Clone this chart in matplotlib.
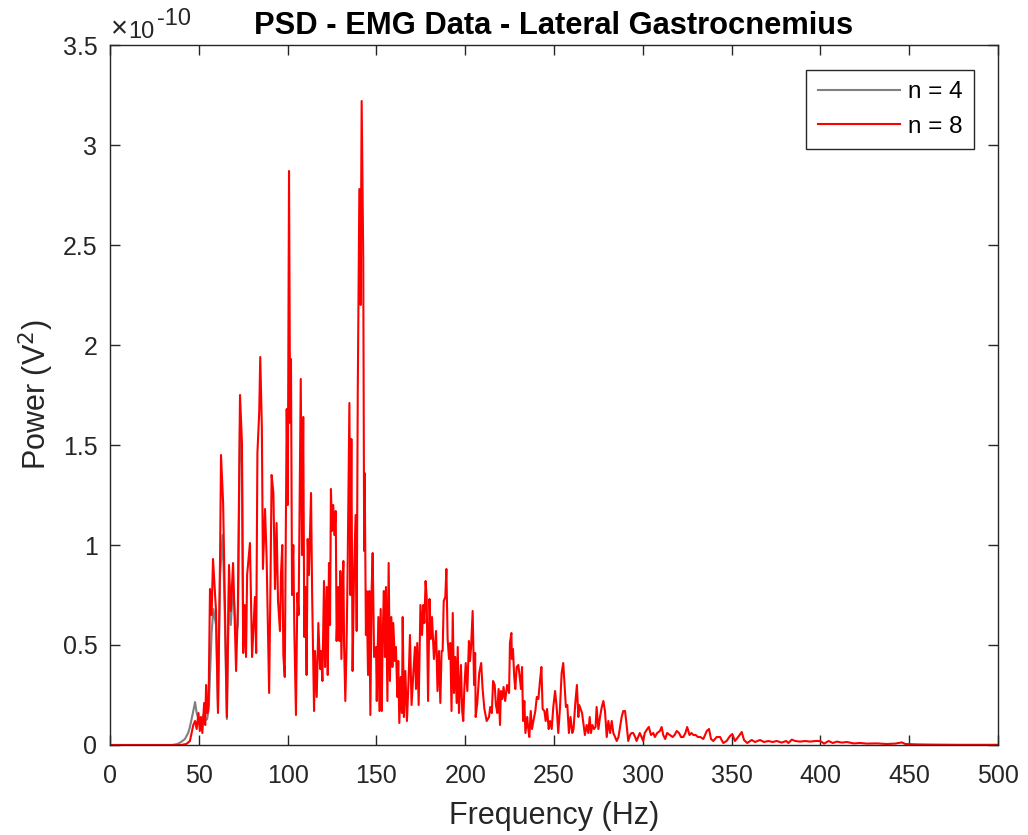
import matplotlib
matplotlib.use("Agg")
import matplotlib.pyplot as plt
from matplotlib.ticker import FuncFormatter

plt.rcParams['font.family'] = ['Liberation Sans', 'DejaVu Sans']

# ---- data (power values in units of 1e-10 V^2) ----
red_freq = [0, 40, 43, 45, 46.9, 47.9, 48.8, 49.8, 50.6, 51.2, 52.0, 53.0, 53.6, 54.1, 54.8, 55.5,
            56.3, 57.2, 58.0, 59.7, 60.8, 62.0, 62.5, 63.7, 64.5, 65.8, 67.0, 68.0, 69.3, 71.0, 72.0,
            73.2, 74.3, 75.0, 75.8, 76.6, 77.2, 78.8, 80.0, 81.6, 82.3, 83.0, 84.0, 84.6, 85.5, 86.1,
            87.3, 88.2, 89.6, 90.4, 91.0, 92.0, 92.9, 93.8, 94.6, 95.7, 96.3, 97.0, 97.6, 98.4, 99.5,
            100.1, 100.8, 101.4, 101.9, 102.5, 103.2, 103.8, 104.7, 105.5, 106.2, 106.6, 107.4, 108.1,
            108.8, 109.4, 110.0, 110.7, 111.3, 112.0, 113.2, 113.8, 114.9, 115.4, 116.4, 117.3, 118.3,
            118.8, 119.6, 120.5, 121.1, 122.0, 122.6, 123.3, 123.9, 124.4, 125.0, 125.7, 126.3, 127.1,
            127.6, 128.5, 129.2, 129.7, 130.3, 131.0, 131.4, 131.8, 132.5, 133.2, 133.8, 134.8, 135.3,
            135.9, 136.6, 137.4, 138.3, 138.9, 139.5, 140.4, 141.1, 141.7, 142.6, 143.1, 143.4, 144.1,
            144.5, 145.3, 146.0, 146.6, 147.3, 147.9, 148.7, 149.8, 150.2, 151.1, 151.7, 152.4, 153.0,
            153.5, 154.2, 154.8, 155.4, 156.2, 156.9, 157.6, 158.4, 159.0, 159.5, 160.4, 161.0, 161.8,
            162.3, 162.9, 163.7, 164.4, 164.8, 165.5, 166.3, 167.2, 168.1, 168.9, 169.8, 170.8, 171.7,
            172.3, 173.0, 173.8, 174.8, 175.7, 176.4, 177.0, 177.7, 178.3, 179.1, 179.9, 180.6, 181.3,
            182.4, 183.6, 184.4, 185.2, 186.0, 186.7, 187.3, 187.9, 188.8, 189.4, 190.1, 190.9, 191.6,
            192.3, 193.0, 193.7, 194.4, 195.2, 195.8, 196.5, 197.6, 198.3, 198.9, 199.5, 200.3, 201.2,
            202.1, 202.7, 203.3, 204.2, 205.0, 205.6, 205.9, 206.8, 207.9, 209.0, 209.8, 210.8, 212.1,
            213.4, 214.1, 215.0, 215.7, 216.6, 217.3, 218.1, 218.8, 219.6, 220.1, 220.9, 221.6, 222.5,
            223.6, 224.7, 225.2, 226.0, 226.3, 226.9, 227.6, 228.2, 229.0, 229.9, 230.7, 231.4, 232.0,
            232.6, 233.3, 233.9, 234.9, 235.4, 236.1, 236.9, 237.6, 238.4, 239.5, 240.3, 241.2, 242.1,
            242.9, 243.6, 244.6, 245.3, 246.1, 247.0, 247.8, 248.7, 249.6, 250.6, 251.5, 252.4, 253.4,
            254.3, 255.2, 256.0, 256.7, 257.5, 258.4, 259.3, 260.3, 261.0, 262.0, 262.9, 263.7, 264.2,
            265.0, 265.8, 266.7, 267.4, 268.4, 269.3, 270.1, 270.8, 271.6, 272.5, 273.4, 274.0, 275.0,
            275.9, 276.9, 277.8, 278.7, 279.7, 280.6, 281.6, 282.5, 283.4, 284.4, 285.3, 286.3, 287.2,
            288.1, 289.0, 290.0, 290.9, 291.8, 292.8, 293.7, 294.6, 295.7, 296.5, 297.4, 298.3, 299.3,
            300.2, 301.1, 302.5, 303.4, 304.6, 305.9, 306.8, 308.1, 309.6, 310.6, 311.5, 312.6, 313.7,
            315.3, 316.8, 317.9, 319.1, 320.4, 321.5, 322.8, 324.0, 325.0, 326.3, 327.4, 328.5, 329.8,
            331.0, 332.4, 334.1, 336.0, 337.3, 338.4, 339.7, 341.6, 343.5, 345.3, 347.2, 349.1, 350.4,
            351.9, 353.7, 355.7, 357.0, 358.8, 361.3, 363.2, 366.0, 368.2, 370.7, 373.1, 375.4, 378.2,
            380.7, 382.0, 383.9, 385.8, 388.6, 391.4, 394.2, 397.1, 399.9, 402.1, 404.6, 407.0, 409.3,
            412.1, 414.9, 418.7, 422.4, 426.2, 431.8, 437.4, 442.1, 445.9, 447.8, 454.4, 461.9, 476.9,
            500.0]
red_power = [0, 0, 0.005, 0.02, 0.10, 0.12, 0.08, 0.16, 0.07, 0.14, 0.06, 0.21, 0.10, 0.30, 0.16, 0.20,
             0.78, 0.65, 0.93, 0.67, 0.16, 0.96, 1.45, 1.21, 0.80, 0.14, 0.90, 0.67, 0.91, 0.37, 0.69,
             1.75, 1.51, 0.46, 0.70, 0.44, 0.85, 1.01, 0.44, 0.74, 0.46, 1.46, 1.66, 1.94, 1.59, 0.88,
             1.18, 0.93, 0.26, 0.84, 1.35, 1.26, 0.78, 1.11, 0.72, 0.57, 0.86, 1.00, 0.45, 0.34, 1.68,
             1.20, 2.87, 1.61, 1.93, 0.75, 1.00, 0.57, 0.15, 0.76, 0.65, 1.04, 1.83, 0.95,
             1.64, 0.54, 0.79, 0.35, 1.03, 0.85, 1.26, 0.76, 0.17, 0.47, 0.24, 0.61, 0.38,
             0.47, 0.32, 0.82, 0.39, 0.79, 0.35, 0.91, 0.60, 1.28, 1.07, 1.20, 1.05, 1.17,
             0.52, 0.79, 0.52, 0.87, 0.43, 0.81, 0.92, 0.50, 0.22, 0.50, 0.88, 1.71, 0.75,
             1.53, 0.37, 0.85, 1.15, 0.57, 1.76, 2.78, 2.20, 3.22, 2.43, 0.97, 1.36, 0.55,
             0.77, 0.35, 0.77, 0.15, 0.77, 0.96, 0.44, 0.49, 0.22, 0.64, 0.17, 0.68, 0.17,
             0.53, 0.77, 0.44, 0.79, 0.22, 0.91, 0.32, 0.64, 0.39, 0.61, 0.42, 0.49, 0.24,
             0.42, 0.11, 0.34, 0.16, 0.64, 0.14, 0.37, 0.12, 0.32, 0.55, 0.20, 0.36, 0.49,
             0.28, 0.51, 0.20, 0.70, 0.55, 0.70, 0.61, 0.82, 0.74, 0.22, 0.73, 0.53, 0.64,
             0.43, 0.57, 0.27, 0.47, 0.21, 0.47, 0.47, 0.72, 0.74, 0.88, 0.53, 0.43, 0.51,
             0.17, 0.66, 0.26, 0.44, 0.21, 0.49, 0.16, 0.40, 0.17, 0.12, 0.28, 0.41, 0.27,
             0.52, 0.42, 0.49, 0.67, 0.30, 0.46, 0.14, 0.21, 0.36, 0.41, 0.28, 0.18, 0.12,
             0.14, 0.19, 0.16, 0.32, 0.30, 0.20, 0.16, 0.28, 0.10, 0.27, 0.23, 0.29, 0.22,
             0.30, 0.26, 0.51, 0.56, 0.43, 0.48, 0.34, 0.28, 0.39, 0.40, 0.34, 0.28, 0.39,
             0.12, 0.22, 0.06, 0.14, 0.09, 0.04, 0.17, 0.08, 0.12, 0.17, 0.24, 0.23, 0.32,
             0.39, 0.18, 0.17, 0.12, 0.18, 0.08, 0.12, 0.08, 0.19, 0.27, 0.19, 0.06, 0.19,
             0.36, 0.41, 0.29, 0.19, 0.20, 0.06, 0.14, 0.06, 0.08, 0.21, 0.30, 0.14, 0.20,
             0.18, 0.16, 0.10, 0.05, 0.10, 0.06, 0.14, 0.06, 0.10, 0.08, 0.09, 0.19, 0.08,
             0.14, 0.19, 0.22, 0.17, 0.04, 0.12, 0.06, 0.12, 0.06, 0.04, 0.02, 0.04, 0.09,
             0.14, 0.17, 0.17, 0.10, 0.02, 0.05, 0.06, 0.06, 0.04, 0.02, 0.04, 0.06, 0.04,
             0.02, 0.06, 0.08, 0.09, 0.05, 0.06, 0.04, 0.06, 0.07, 0.09, 0.05, 0.03, 0.06,
             0.05, 0.04, 0.05, 0.07, 0.06, 0.04, 0.04, 0.06, 0.09, 0.05, 0.06, 0.05, 0.05,
             0.04, 0.04, 0.03, 0.07, 0.08, 0.03, 0.02, 0.04, 0.04, 0.01, 0.02, 0.045, 0.055,
             0.02, 0.04, 0.065, 0.025, 0.01, 0.025, 0.015, 0.025, 0.015, 0.02, 0.015, 0.02, 0.012,
             0.02, 0.01, 0.027, 0.02, 0.017, 0.02, 0.017, 0.02, 0.02, 0.007, 0.02, 0.01, 0.017,
             0.012, 0.015, 0.008, 0.01, 0.007, 0.008, 0.005, 0.007, 0.013, 0.005, 0.003, 0.002, 0.001,
             0.001]

grey_freq = [0, 35, 38, 40, 42.2, 44, 45, 46.9, 47.9, 48.8, 49.8, 50.6, 51.6, 52.5, 53.5, 54.7,
             55.6, 57.2, 58.2, 59.7, 60.8, 62.0, 63.4, 64.5, 65.8, 67.0, 68.0, 69.3, 71.0, 72.0,
             73.2, 74.3, 75.0, 76.0]
grey_power = [0, 0, 0.005, 0.015, 0.03, 0.06, 0.09, 0.17, 0.215, 0.16, 0.13, 0.12, 0.09, 0.15, 0.12, 0.13,
              0.18, 0.56, 0.68, 0.60, 0.18, 0.85, 1.05, 0.70, 0.13, 0.80, 0.60, 0.80, 0.55, 0.60,
              1.60, 1.40, 0.50, 0.60]

series_labels = ['n = 4', 'n = 8']
x_ticks = [0, 50, 100, 150, 200, 250, 300, 350, 400, 450, 500]
y_ticks = [0, 0.5, 1, 1.5, 2, 2.5, 3, 3.5]

# ---- figure ----
axc = '#262626'
W, H = 1028, 835
fig = plt.figure(figsize=(W / 100, H / 100), dpi=100)
ax = fig.add_axes([110 / W, 1 - 745 / H, 888 / W, 700 / H])

ax.plot(grey_freq, grey_power, color='#808080', lw=1.5, label=series_labels[0])
ax.plot(red_freq, red_power, color='#ff0000', lw=1.5, label=series_labels[1])

ax.set_xlim(0, 500)
ax.set_ylim(0, 3.5)
ax.set_xticks(x_ticks)
ax.set_yticks(y_ticks)
ax.yaxis.set_major_formatter(FuncFormatter(lambda v, p: '%g' % v))
ax.tick_params(direction='in', length=7, width=1.0, colors=axc, labelsize=18,
               top=True, right=True, labelcolor=axc)
ax.tick_params(axis='x', pad=14)
ax.tick_params(axis='y', pad=9)
for s in ax.spines.values():
    s.set_color(axc)
    s.set_linewidth(1.0)

ax.set_xlabel('Frequency (Hz)', fontsize=22, color=axc, labelpad=9)
ax.set_ylabel('Power (V$^2$)', fontsize=22, color=axc, labelpad=5)
ax.set_title('PSD - EMG Data - Lateral Gastrocnemius', fontsize=22.2, fontweight='bold',
             color='black', pad=8)
# MATLAB-style exponent label
fig.text(111 / W, 1 - 37 / H, '\u00d7', fontsize=21, color=axc, ha='left', va='baseline')
fig.text(128 / W, 1 - 38 / H, '10', fontsize=17, color=axc, ha='left', va='baseline')
fig.text(157 / W, 1 - 25 / H, '-10', fontsize=17, color=axc, ha='left', va='baseline')

leg = ax.legend(loc='upper right', bbox_to_anchor=(0.973, 0.964), fancybox=False,
                edgecolor=axc, framealpha=1, fontsize=17.5, handlelength=3.4,
                handletextpad=0.33, borderpad=0.46, labelspacing=0.5, borderaxespad=0)
leg.get_frame().set_linewidth(1.0)
for t in leg.get_texts():
    t.set_color('black')

fig.savefig('out.png', dpi=100)
